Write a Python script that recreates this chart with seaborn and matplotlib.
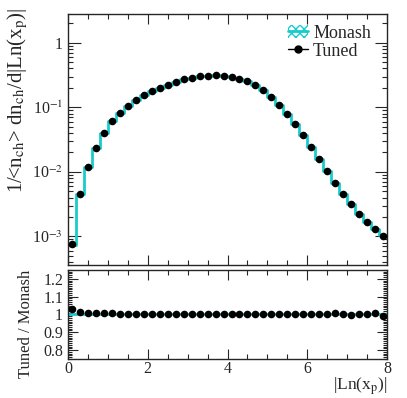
import numpy as np
import pandas as pd
import matplotlib
matplotlib.use("Agg")
import matplotlib.pyplot as plt
import seaborn as sns
from matplotlib.patches import Patch
from matplotlib.lines import Line2D
from matplotlib.ticker import MultipleLocator, LogLocator, NullFormatter, FixedLocator

# |Ln(x_p)| bins, width 0.2 from 0 to 8
bin_edges = np.round(np.arange(0, 8.01, 0.2), 2)
bin_centers = np.round(bin_edges[:-1] + 0.1, 2)

# Tuned values (1/<nch> dnch/d|Ln(xp)|)
tuned = [7.7e-4, 4.6e-3, 0.0120, 0.0238, 0.0400, 0.0610, 0.0820, 0.105, 0.1316, 0.155,
         0.181, 0.202, 0.224, 0.247, 0.271, 0.288, 0.303, 0.309, 0.313, 0.309,
         0.298, 0.278, 0.253, 0.224, 0.186, 0.146, 0.110, 0.080, 0.056, 0.0379,
         0.0247, 0.0159, 0.0103, 0.0067, 0.00454, 0.00313, 0.00225, 0.00167, 0.00130, 0.00103]

# Tuned / Monash ratio
ratio = [1.030, 1.013, 1.008, 1.008, 1.006, 1.006, 1.004, 1.004, 1.003, 1.003,
         1.002, 1.002, 1.002, 1.003, 1.002, 1.002, 1.002, 1.002, 1.002, 1.002,
         1.002, 1.002, 1.002, 1.002, 1.002, 1.002, 1.002, 1.002, 1.003, 1.003,
         1.001, 1.001, 1.000, 1.006, 1.003, 0.995, 1.000, 1.001, 1.006, 0.990]

monash = [t / r for t, r in zip(tuned, ratio)]

df = pd.DataFrame({"x": bin_centers, "tuned": tuned, "monash": monash, "ratio": ratio})

sns.set_style("ticks")
plt.rcParams["font.family"] = ["Liberation Serif", "DejaVu Serif"]
plt.rcParams["mathtext.fontset"] = "stix"
plt.rcParams["font.size"] = 11

cyan = "#19cccc"

fig = plt.figure(figsize=(4.07, 3.98), dpi=100)
ax = fig.add_axes([0.167, 0.334, 0.784, 0.631])
rax = fig.add_axes([0.167, 0.098, 0.784, 0.224])

# top panel
sns.histplot(data=df, x="x", weights="monash", binwidth=0.2, binrange=(0, 8),
             element="step", fill=False, color=cyan, linewidth=2, ax=ax)
sns.scatterplot(data=df, x="x", y="tuned", color="black", s=30, edgecolor="black",
                linewidth=0, zorder=5, ax=ax)
ax.set_yscale("log")
ax.set_xlim(0, 8)
ax.set_ylim(3.6e-4, 2.8)
ax.set_xlabel("")
ax.set_ylabel(r"1/<n$_{\rm ch}$> dn$_{\rm ch}$/d|Ln(x$_{\rm p}$)|", fontsize=15, loc="top")
ax.set_yticks([1e-3, 1e-2, 1e-1, 1])
ax.set_yticklabels([r"10$^{-3}$", r"10$^{-2}$", r"10$^{-1}$", "1"])
ax.yaxis.set_minor_locator(LogLocator(base=10, subs=np.arange(2, 10)))
ax.yaxis.set_minor_formatter(NullFormatter())
ax.xaxis.set_major_locator(MultipleLocator(2))
ax.xaxis.set_minor_locator(MultipleLocator(0.5))
ax.tick_params(labelbottom=False)

handles = [
    (Patch(facecolor="white", edgecolor=cyan, hatch="xxxx", linewidth=0),
     Line2D([], [], color=cyan, linewidth=2)),
    Line2D([], [], color="black", marker="o", markersize=5, linewidth=1),
]
ax.legend(handles, ["Monash", "Tuned"], loc="upper left", bbox_to_anchor=(0.655, 1.0),
          frameon=False, fontsize=13, handlelength=1.1, handletextpad=0.3,
          borderaxespad=0.2, labelspacing=0.05)

# ratio panel
sns.lineplot(x=[0, 8], y=[1, 1], color=cyan, linewidth=2, ax=rax)
sns.scatterplot(data=df, x="x", y="ratio", color="black", s=30, edgecolor="black",
                linewidth=0, zorder=5, ax=rax)
rax.set_xlim(0, 8)
rax.set_ylim(0.75, 1.25)
rax.yaxis.set_major_locator(FixedLocator([0.8, 0.9, 1.0, 1.1, 1.2]))
rax.set_yticklabels(["0.8", "0.9", "1", "1.1", "1.2"])
rax.yaxis.set_minor_locator(MultipleLocator(0.01))
rax.xaxis.set_major_locator(MultipleLocator(2))
rax.xaxis.set_minor_locator(MultipleLocator(0.5))
rax.set_ylabel("Tuned / Monash", fontsize=12, loc="top")
rax.set_xlabel(r"|Ln(x$_{\rm p}$)|", fontsize=12.5, loc="right")

for a in (ax, rax):
    a.tick_params(which="both", direction="in", top=True, right=True, labelsize=11.5)
    a.tick_params(which="major", length=7, width=0.8)
    a.tick_params(which="minor", length=3.5, width=0.8)
    for s in a.spines.values():
        s.set_linewidth(1.0)
ax.tick_params(which="major", axis="y", length=9)
rax.tick_params(which="minor", axis="y", length=3)
rax.tick_params(axis="x", pad=1.5)

ax.yaxis.set_label_coords(-0.12, 1.025)
rax.yaxis.set_label_coords(-0.105, 1.0)
rax.xaxis.set_label_coords(1.0, -0.185)

fig.savefig("out.png", dpi=100)
